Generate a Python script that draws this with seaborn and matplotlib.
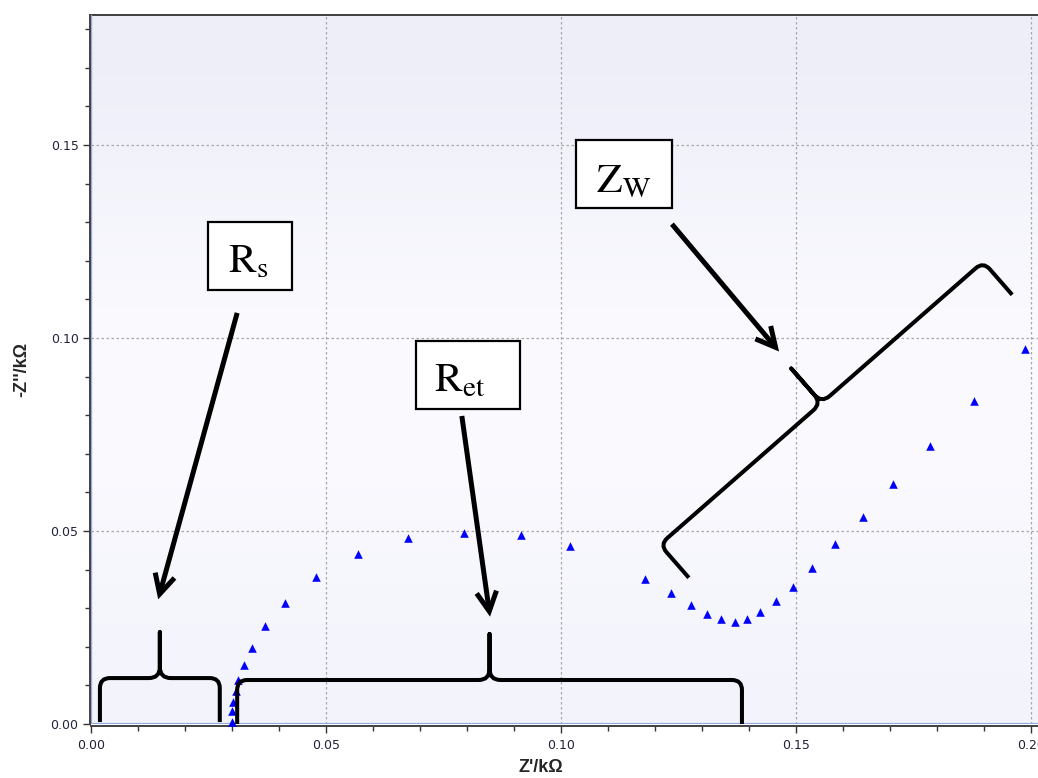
import numpy as np
import pandas as pd
import matplotlib
matplotlib.use("Agg")
import matplotlib.pyplot as plt
import seaborn as sns
from matplotlib.path import Path
from matplotlib.patches import PathPatch, Rectangle

# ---------------- data ----------------
z_real = [0.0301, 0.0301, 0.0303, 0.0308, 0.0313, 0.0326, 0.0343, 0.0371, 0.0413,
          0.0479, 0.0568, 0.0675, 0.0794, 0.0915, 0.1020, 0.1179, 0.1233, 0.1277,
          0.1310, 0.1341, 0.1370, 0.1395, 0.1424, 0.1457, 0.1493, 0.1533, 0.1584,
          0.1643, 0.1707, 0.1786, 0.1878, 0.1988]
z_imag = [0.0006, 0.0034, 0.0058, 0.0085, 0.0115, 0.0154, 0.0197, 0.0254, 0.0314,
          0.0381, 0.0440, 0.0482, 0.0494, 0.0490, 0.0461, 0.0376, 0.0340, 0.0307,
          0.0284, 0.0272, 0.0263, 0.0272, 0.0290, 0.0319, 0.0356, 0.0405, 0.0466,
          0.0535, 0.0621, 0.0720, 0.0838, 0.0971]
x_ticks = [0.00, 0.05, 0.10, 0.15, 0.20]
y_ticks = [0.00, 0.05, 0.10, 0.15]
x_label = "Z'/k\u03a9"
y_label = "-Z''/k\u03a9"

# annotation labels (mathtext) with box extents and text anchor, in data units
labels = [r"$\mathrm{R}_{\mathrm{s}}$", r"$\mathrm{R}_{\mathrm{et}}$", r"$\mathrm{Z}_{\mathrm{W}}$"]
label_boxes = [(0.0249, 0.1124, 0.0428, 0.1301),
               (0.0691, 0.0816, 0.0913, 0.0992),
               (0.1032, 0.1337, 0.1236, 0.1513)]
label_text_pos = [(0.0334, 0.1171), (0.0784, 0.0861), (0.1134, 0.1377)]
# arrows: (tail, head)
arrows = [((0.0311, 0.1065), (0.0143, 0.0323)),
          ((0.0789, 0.0798), (0.0849, 0.0278)),
          ((0.1236, 0.1295), (0.1464, 0.0965))]
# braces: (foot A, foot B)
braces = [((0.0019, 0.0005), (0.0274, 0.0005)),
          ((0.0311, 0.0000), (0.1385, 0.0000)),
          ((0.1272, 0.0379), (0.1960, 0.1112))]

df = pd.DataFrame({"zr": z_real, "zi": z_imag})

# ---------------- figure ----------------
sns.set_style("ticks")
plt.rcParams["font.family"] = ["DejaVu Sans"]
plt.rcParams["mathtext.fontset"] = "stix"

W, H = 1038, 778
fig = plt.figure(figsize=(W / 100, H / 100), dpi=100)
ax = fig.add_axes([91 / W, 1 - 724 / H, (W - 91) / W, (724 - 15) / H])

XMAX = (W - 91) / 4700
YMAX = (724 - 15) / 3860

# background gradient
grad = np.array([[0.933, 0.933, 0.976],
                 [0.965, 0.965, 0.992],
                 [0.988, 0.988, 1.000],
                 [0.975, 0.975, 0.996],
                 [0.955, 0.955, 0.988]])
ax.imshow(grad[:, None, :], extent=[0, 1, 0, 1], transform=ax.transAxes,
          aspect="auto", interpolation="bicubic", zorder=0)

sns.scatterplot(data=df, x="zr", y="zi", marker="^", color="#0000FF", s=38,
                linewidth=0, ax=ax, zorder=5, clip_on=False)

ax.set_xlim(0, XMAX)
ax.set_ylim(0, YMAX)

ax.set_xticks(x_ticks)
ax.set_yticks(y_ticks)
ax.set_xticklabels([f"{v:.2f}" for v in x_ticks])
ax.set_yticklabels([f"{v:.2f}" for v in y_ticks])
ax.set_xticks(np.arange(0, 0.2001, 0.01), minor=True)
ax.set_yticks(np.arange(0, 0.1801, 0.01), minor=True)

ax.tick_params(axis="both", which="major", length=5, width=1, color="#333333",
               labelsize=9, labelcolor="#22223a", direction="out", pad=3)
ax.tick_params(axis="both", which="minor", length=3.5, width=1, color="#333333",
               direction="out")
ax.tick_params(axis="x", which="major", pad=4)

ax.grid(True, which="major", color="#a8a8a8", linestyle=(0, (2, 2)), linewidth=0.9)
ax.set_axisbelow(True)

for s in ["left", "bottom", "top"]:
    ax.spines[s].set_color("#404040")
    ax.spines[s].set_linewidth(1.4)
ax.spines["right"].set_visible(False)
ax.spines["left"].set_position(("outward", 1))
ax.spines["bottom"].set_position(("outward", 1.5))
ax.axvline(0, color="#93abe0", lw=1.6, zorder=4)
ax.axhline(0, color="#93abe0", lw=1.6, zorder=4)

ax.set_xlabel(x_label, fontsize=13, fontweight="bold", family="Liberation Sans")
ax.set_ylabel(y_label, fontsize=13, fontweight="bold", family="Liberation Sans")
ax.xaxis.set_label_coords((541 - 91) / (W - 91), -(768 - 724) / (724 - 15))
ax.yaxis.set_label_coords(-(91 - 22) / (W - 91), 0.5)
ax.xaxis.label.set_va("center")
ax.yaxis.label.set_va("center")

# ---------------- annotations ----------------
fig.canvas.draw()
to_disp = ax.transData.transform
to_data = ax.transData.inverted().transform


def brace_path(A, B, h=44.0, t=46.0, r=10.0, rt=11.0):
    a = np.array(to_disp(A))
    b = np.array(to_disp(B))
    u = (b - a) / np.linalg.norm(b - a)
    n = np.array([-u[1], u[0]])
    m = (a + b) / 2
    pts = [a, a + n * (h - r),
           a + n * h, a + n * h + u * r,
           m + n * h - u * rt,
           m + n * h, m + n * (h + rt),
           m + n * (h + t),
           m + n * (h + rt),
           m + n * h, m + n * h + u * rt,
           b + n * h - u * r,
           b + n * h, b + n * (h - r),
           b]
    codes = [Path.MOVETO, Path.LINETO,
             Path.CURVE3, Path.CURVE3,
             Path.LINETO,
             Path.CURVE3, Path.CURVE3,
             Path.LINETO,
             Path.LINETO,
             Path.CURVE3, Path.CURVE3,
             Path.LINETO,
             Path.CURVE3, Path.CURVE3,
             Path.LINETO]
    return Path(to_data(np.array(pts)), codes)


for A, B in braces:
    ax.add_patch(PathPatch(brace_path(A, B), facecolor="none", edgecolor="black",
                           lw=2.9, capstyle="butt", joinstyle="round", zorder=6,
                           clip_on=False))

for tail, head in arrows:
    ax.annotate("", xy=head, xytext=tail,
                arrowprops=dict(arrowstyle="->,head_length=1.4,head_width=0.72",
                                lw=3.6, color="black", shrinkA=0, shrinkB=0,
                                joinstyle="miter", capstyle="butt"),
                zorder=7)

for lab, (x0, y0, x1, y1), (tx, ty) in zip(labels, label_boxes, label_text_pos):
    ax.add_patch(Rectangle((x0, y0), x1 - x0, y1 - y0, facecolor="white",
                           edgecolor="black", lw=1.6, zorder=8))
    ax.text(tx, ty, lab, fontsize=30, ha="center", va="baseline", color="black",
            zorder=9)

fig.savefig("out.png", dpi=100)
